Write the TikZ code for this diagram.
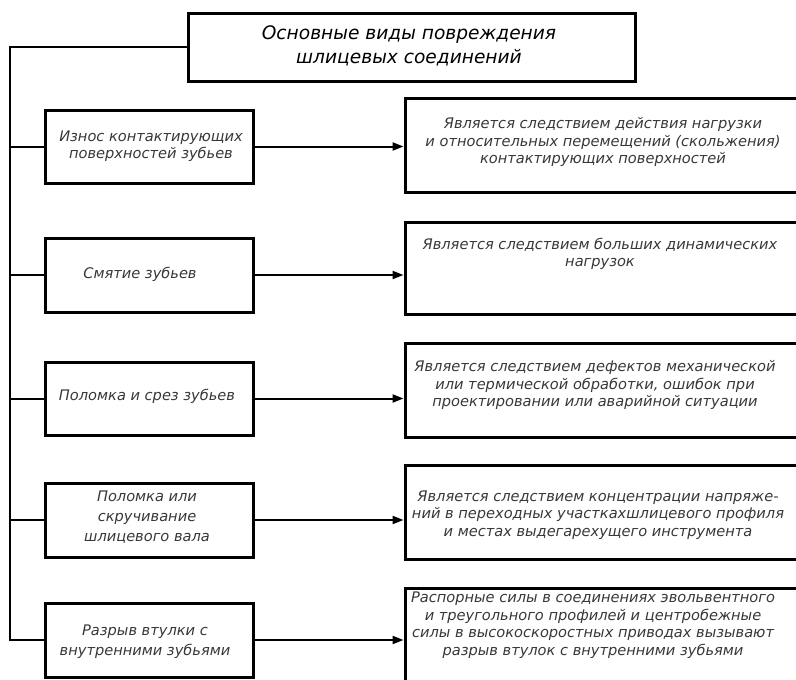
\documentclass[tikz,border=0pt]{standalone}
\usepackage{fontspec}
\setmainfont{DejaVu Sans}
\usetikzlibrary{arrows.meta,calc}
\tikzset{
  x=1pt,y=-1pt,
  boxstyle/.style={draw=black,line width=3pt,rectangle,inner sep=0pt},
  txt/.style={align=center,text=black!78,font=\fontsize{14.6}{17.5}\selectfont\itshape},
  ttl/.style={align=center,text=black,font=\fontsize{18.6}{24}\selectfont\itshape},
  conn/.style={line width=2pt,draw=black},
  arr/.style={conn,-{Triangle[length=11pt,width=8pt]}}
}
\begin{document}
\begin{tikzpicture}
\useasboundingbox (0,0) rectangle (796,680);
\clip (0,0) rectangle (796,680);
% title
\node[boxstyle,minimum width=447,minimum height=68] (T) at (411.5,47) {};
\node[ttl] (Tt) at (409,46) {Основные виды повреждения\\шлицевых соединений};
% left boxes
\node[boxstyle,minimum width=208,minimum height=73] (L1) at (149,146.5) {};
\node[txt] (L1t) at (151,146) {Износ контактирующих\\поверхностей зубьев};
\node[boxstyle,minimum width=208,minimum height=74] (L2) at (149,275) {};
\node[txt] (L2t) at (140,274) {Смятие зубьев};
\node[boxstyle,minimum width=208,minimum height=73] (L3) at (149,398.5) {};
\node[txt] (L3t) at (147,396) {Поломка и срез зубьев};
\node[boxstyle,minimum width=208,minimum height=74] (L4) at (149,520) {};
\node[txt,font=\fontsize{14.6}{20}\selectfont\itshape] (L4t) at (147,517) {Поломка или\\скручивание\\шлицевого вала};
\node[boxstyle,minimum width=208,minimum height=74] (L5) at (149,640) {};
\node[txt,font=\fontsize{14.6}{20}\selectfont\itshape] (L5t) at (145,642) {Разрыв втулки с\\внутренними зубьями};
% right boxes
\node[boxstyle,minimum width=395,minimum height=94] (R1) at (602.5,145) {};
\node[txt] (R1t) at (603,142) {Является следствием действия нагрузки\\и относительных перемещений (скольжения)\\контактирующих поверхностей};
\node[boxstyle,minimum width=395,minimum height=92] (R2) at (602.5,268) {};
\node[txt] (R2t) at (600,254) {Является следствием больших динамических\\нагрузок};
\node[boxstyle,minimum width=395,minimum height=94] (R3) at (602.5,390) {};
\node[txt] (R3t) at (595,385) {Является следствием дефектов механической\\или термической обработки, ошибок при\\проектировании или аварийной ситуации};
\node[boxstyle,minimum width=395,minimum height=94] (R4) at (602.5,512) {};
\node[txt] (R4t) at (598,515) {Является следствием концентрации напряже-\\ний в переходных участкахшлицевого профиля\\и местах выдегарехущего инструмента};
\node[boxstyle,minimum width=395,minimum height=104] (R5) at (602.5,640) {};
\node[txt] (R5t) at (593,625) {Распорные силы в соединениях эвольвентного\\и треугольного профилей и центробежные\\силы в высокоскоростных приводах вызывают\\разрыв втулок с внутренними зубьями};
% trunk
\coordinate (top) at (10,47);
\coordinate (bot) at (10,640);
\draw[conn] (T.west) -- (top) -- (bot) -- (L5.west);
\foreach \n in {L1,L2,L3,L4}{
  \draw[conn] (top |- \n.west) -- (\n.west);
}
\foreach \a/\b in {L1/R1,L2/R2,L3/R3,L4/R4,L5/R5}{
  \draw[arr] (\a.east) -- (\a.east -| \b.west);
}
\end{tikzpicture}
\end{document}
